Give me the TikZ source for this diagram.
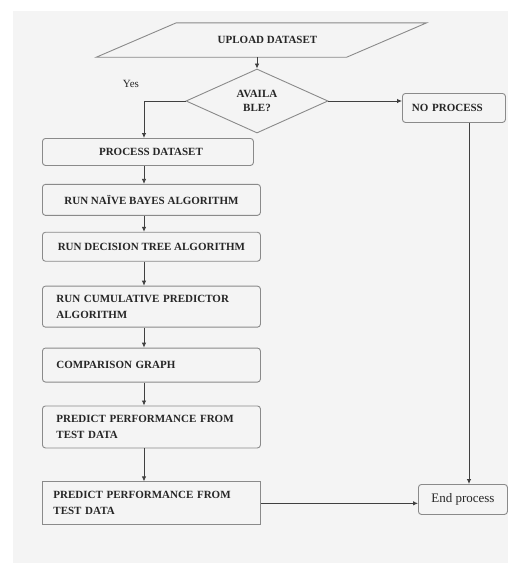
\documentclass[tikz,border=0pt]{standalone}
\usepackage{fontspec}
\setmainfont{Liberation Serif}
\usetikzlibrary{positioning, arrows.meta, shapes.geometric}
\definecolor{pagebg}{HTML}{F4F4F4}
\definecolor{edge}{HTML}{8A8A8A}
\definecolor{ink}{HTML}{262626}
\tikzset{
  block/.style={draw=edge, line width=0.9pt, rounded corners=3pt, fill=pagebg, text=ink, inner sep=0pt, minimum width=218pt, font=\fontsize{11}{16}\selectfont\bfseries, align=center},
  lblock/.style={block, text width=190pt, align=left},
  io/.style={minimum width=250pt, minimum height=34pt, inner sep=0pt, text=ink, font=\fontsize{11}{13}\selectfont\bfseries},
  decision/.style={draw=edge, line width=0.9pt, diamond, minimum width=142pt, minimum height=64pt, inner sep=0pt, text=ink, align=center, font=\fontsize{11}{14}\selectfont\bfseries},
  arr/.style={-{Latex[length=5pt, width=4.5pt]}, draw=black!75, line width=0.8pt},
  lbl/.style={text=ink, font=\fontsize{11}{13}\selectfont}
}
\begin{document}
\begin{tikzpicture}[x=1pt, y=-1pt]
\fill[white] (0,0) rectangle (508,563);
\fill[pagebg] (13,11) rectangle (508,563);
\useasboundingbox (0,0) rectangle (508,563);
\coordinate (lane) at (144,0);
\coordinate (rlane) at (469,0);
\node[io] (upload) at (261.5,40) {\hspace*{12pt}UPLOAD DATASET};
\draw[edge, line width=0.9pt] ([xshift=-40pt]upload.south west) -- ([xshift=40pt]upload.north west)
  -- ([xshift=40pt]upload.north east) -- ([xshift=-40pt]upload.south east) -- cycle;
\node[decision] (avail) at (257,101) {AVAILA\\BLE?};
\node[lbl] (yes) at (131,84) {Yes};
\node[block, minimum width=211pt, minimum height=27pt, anchor=north west] (proc) at (42,138) {\hspace*{6pt}PROCESS DATASET};
\node[block, minimum height=31pt, below=18pt of proc.south west, anchor=north west] (naive) {RUN NAÏVE BAYES ALGORITHM};
\node[block, minimum height=29pt, below=16pt of naive.south west, anchor=north west] (dtree) {RUN DECISION TREE ALGORITHM};
\node[lblock, minimum height=41pt, below=24pt of dtree.south west, anchor=north west] (cumul) {RUN CUMULATIVE PREDICTOR\\ALGORITHM};
\node[lblock, minimum height=34pt, below=20pt of cumul.south west, anchor=north west] (comp) {COMPARISON GRAPH};
\node[lblock, minimum height=42pt, below=23pt of comp.south west, anchor=north west] (pred1) {PREDICT PERFORMANCE FROM\\TEST DATA};
\node[lblock, sharp corners, minimum height=43pt, text width=196pt, below=33pt of pred1.south west, anchor=north west] (pred2) {PREDICT PERFORMANCE FROM\\TEST DATA};
\node[block, minimum width=103pt, minimum height=29pt, text width=84pt, align=left, anchor=north west] (noproc) at (402,93) {NO PROCESS};
\node[block, minimum width=89pt, minimum height=30pt, font=\fontsize{13}{15}\selectfont, anchor=north west] (endp) at (418,484) {End process};
\draw[arr] (upload.south -| avail.north) -- (avail.north);
\draw[arr] (avail.west) -| (proc.north -| lane);
\draw[arr] (avail.east) -- (avail.east -| noproc.west);
\draw[arr] (proc.south -| lane) -- (naive.north -| lane);
\draw[arr] (naive.south -| lane) -- (dtree.north -| lane);
\draw[arr] (dtree.south -| lane) -- (cumul.north -| lane);
\draw[arr] (cumul.south -| lane) -- (comp.north -| lane);
\draw[arr] (comp.south -| lane) -- (pred1.north -| lane);
\draw[arr] (pred1.south -| lane) -- (pred2.north -| lane);
\draw[arr] (noproc.south -| rlane) -- (endp.north -| rlane);
\draw[arr] (pred2.east) -- (pred2.east -| endp.west);
\end{tikzpicture}
\end{document}
